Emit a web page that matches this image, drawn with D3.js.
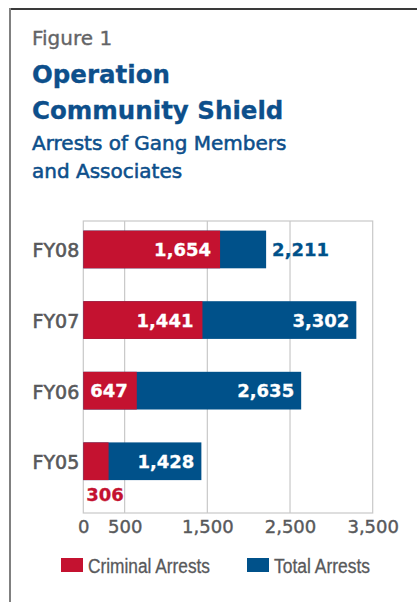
<!DOCTYPE html>
<html>
<head>
<meta charset="utf-8">
<script src="https://cdn.jsdelivr.net/npm/d3@7"></script>
<style>
  html, body { margin: 0; padding: 0; background: #fff; }
  svg { display: block; }
</style>
</head>
<body>
<svg id="chart" width="417" height="602"></svg>
<script>
// ---- Data ----
const categories = ["FY08", "FY07", "FY06", "FY05"];
const criminalArrests = [1654, 1441, 647, 306];
const totalArrests = [2211, 3302, 2635, 1428];
const xTicks = [0, 500, 1500, 2500, 3500];
const seriesNames = ["Criminal Arrests", "Total Arrests"];

// ---- Styles ----
const RED = "#c41230";
const BLUE = "#00518a";
const TITLE_BLUE = "#0d4f8b";
const GRAY_TEXT = "#58595b";
const GRID = "#c8c8c8";

const svg = d3.select("#chart");

// frame
svg.append("line").attr("x1", 9).attr("x2", 417).attr("y1", 9).attr("y2", 9)
  .attr("stroke", "#3a3a3a").attr("stroke-width", 2);
svg.append("line").attr("x1", 10).attr("x2", 10).attr("y1", 8).attr("y2", 602)
  .attr("stroke", "#808080").attr("stroke-width", 2);

// titles
svg.append("text").attr("x", 32).attr("y", 44.5)
  .attr("font-family", "DejaVu Sans").attr("font-size", 20)
  .attr("fill", "#636466").attr("stroke", "#636466").attr("stroke-width", 0.35)
  .text("Figure 1");
const bigTitle = ["Operation", "Community Shield"];
bigTitle.forEach((t, i) => {
  svg.append("text").attr("x", 32).attr("y", 83 + i * 36)
    .attr("font-family", "DejaVu Sans").attr("font-weight", "bold").attr("font-size", 24.5)
    .attr("fill", TITLE_BLUE).attr("stroke", TITLE_BLUE).attr("stroke-width", 0.3)
    .text(t);
});
const subTitle = ["Arrests of Gang Members", "and Associates"];
subTitle.forEach((t, i) => {
  svg.append("text").attr("x", 32).attr("y", 150 + i * 28)
    .attr("font-family", "DejaVu Sans").attr("font-size", 20)
    .attr("fill", TITLE_BLUE).attr("stroke", TITLE_BLUE).attr("stroke-width", 0.55)
    .text(t);
});

// ---- Scales ----
const plot = { left: 83.3, right: 372.7, top: 221, bottom: 513 };
const x = d3.scaleLinear().domain([0, 3500]).range([plot.left, plot.right]);
const y = d3.scaleBand().domain(categories).range([plot.top, plot.bottom])
  .paddingInner(0.466).paddingOuter(0.301).align(0.226);

const g = svg.append("g");

// grid box
g.append("rect").attr("x", plot.left).attr("y", plot.top)
  .attr("width", plot.right - plot.left).attr("height", plot.bottom - plot.top)
  .attr("fill", "none").attr("stroke", GRID).attr("stroke-width", 1.2);
g.selectAll("line.grid").data(xTicks.filter(d => d > 0 && d < 3500)).join("line")
  .attr("class", "grid")
  .attr("x1", d => x(d)).attr("x2", d => x(d))
  .attr("y1", plot.top).attr("y2", plot.bottom)
  .attr("stroke", GRID).attr("stroke-width", 1.2);

const rows = categories.map((c, i) => ({ cat: c, crim: criminalArrests[i], total: totalArrests[i] }));

// bars: total behind, criminal in front
g.selectAll("rect.total").data(rows).join("rect").attr("class", "total")
  .attr("x", x(0)).attr("y", d => y(d.cat))
  .attr("width", d => x(d.total) - x(0)).attr("height", y.bandwidth())
  .attr("fill", BLUE);
g.selectAll("rect.crim").data(rows).join("rect").attr("class", "crim")
  .attr("x", x(0)).attr("y", d => y(d.cat))
  .attr("width", d => x(d.crim) - x(0)).attr("height", y.bandwidth())
  .attr("fill", RED);

const fmt = d3.format(",");
const LABEL_FS = 18;
const labelW = v => fmt(v).length * LABEL_FS * 0.62;

// criminal labels
g.selectAll("text.crimLbl").data(rows).join("text").attr("class", "crimLbl")
  .attr("font-family", "DejaVu Sans").attr("font-weight", "bold").attr("font-size", LABEL_FS)
  .each(function(d) {
    const segW = x(d.crim) - x(0);
    const sel = d3.select(this);
    if (segW > labelW(d.crim) + 10) {
      sel.attr("x", x(d.crim) - 9).attr("y", y(d.cat) + y.bandwidth() / 2)
        .attr("dy", "0.36em").attr("text-anchor", "end").attr("fill", "#fff")
        .attr("stroke", "#fff").attr("stroke-width", 0.3);
    } else {
      sel.attr("x", x(0) + 3).attr("y", y(d.cat) + y.bandwidth() + 21)
        .attr("text-anchor", "start").attr("fill", RED)
        .attr("stroke", RED).attr("stroke-width", 0.3);
    }
  })
  .text(d => fmt(d.crim));

// total labels
g.selectAll("text.totLbl").data(rows).join("text").attr("class", "totLbl")
  .attr("font-family", "DejaVu Sans").attr("font-weight", "bold").attr("font-size", LABEL_FS)
  .attr("y", d => y(d.cat) + y.bandwidth() / 2).attr("dy", "0.36em")
  .each(function(d) {
    const segW = x(d.total) - x(d.crim);
    const sel = d3.select(this);
    if (segW > labelW(d.total) + 10) {
      sel.attr("x", x(d.total) - 7).attr("text-anchor", "end").attr("fill", "#fff")
        .attr("stroke", "#fff").attr("stroke-width", 0.3);
    } else {
      sel.attr("x", x(d.total) + 6).attr("text-anchor", "start").attr("fill", BLUE)
        .attr("stroke", BLUE).attr("stroke-width", 0.3);
    }
  })
  .text(d => fmt(d.total));

// x axis
const xAxis = g.append("g").attr("transform", `translate(0,${plot.bottom})`)
  .call(d3.axisBottom(x).tickValues(xTicks).tickFormat(fmt).tickSize(0).tickPadding(0));
xAxis.select(".domain").remove();
xAxis.selectAll("text").attr("font-family", "DejaVu Sans").attr("font-size", 18)
  .attr("fill", GRAY_TEXT).attr("stroke", GRAY_TEXT).attr("stroke-width", 0.4)
  .attr("dy", null).attr("y", 19.5);

// y axis
const yAxis = g.append("g").attr("transform", `translate(${plot.left},0)`)
  .call(d3.axisLeft(y).tickSize(0).tickPadding(4));
yAxis.select(".domain").remove();
yAxis.selectAll("text").attr("font-family", "DejaVu Sans").attr("font-size", 19)
  .attr("fill", GRAY_TEXT).attr("stroke", GRAY_TEXT).attr("stroke-width", 0.6)
  .attr("dy", "0.42em");

// legend
const legend = svg.append("g");
const legX = [61, 247];
const legTextW = [122, 96];
const legColors = [RED, BLUE];
seriesNames.forEach((name, i) => {
  legend.append("rect").attr("x", legX[i]).attr("y", 558).attr("width", 22).attr("height", 14)
    .attr("fill", legColors[i]);
  legend.append("text").attr("x", legX[i] + 27).attr("y", 573.3)
    .attr("font-family", "'Liberation Sans', sans-serif")
    .attr("font-size", 20).attr("fill", GRAY_TEXT)
    .attr("stroke", GRAY_TEXT).attr("stroke-width", 0.3)
    .attr("textLength", legTextW[i]).attr("lengthAdjust", "spacingAndGlyphs")
    .text(name);
});
</script>
</body>
</html>
